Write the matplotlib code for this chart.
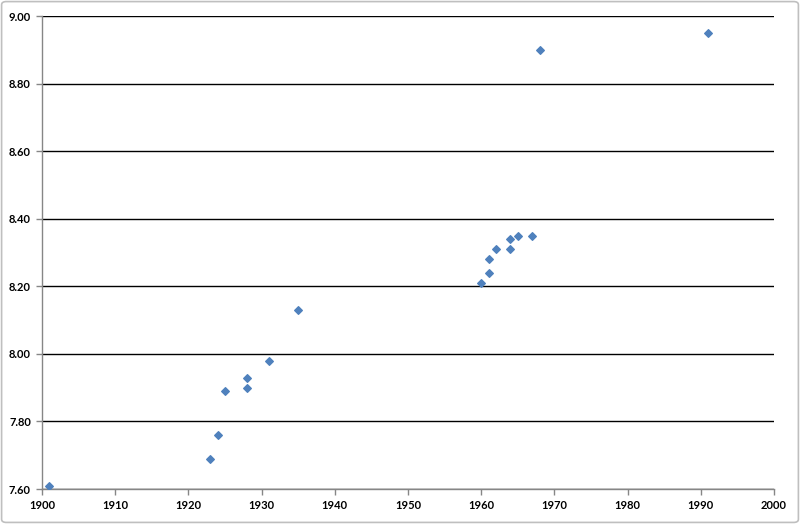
import matplotlib.pyplot as plt
from matplotlib.patches import FancyBboxPatch

years = [1901, 1923, 1924, 1925, 1928, 1928, 1931, 1935, 1960, 1961, 1961,
         1962, 1964, 1964, 1965, 1967, 1968, 1991]
values = [7.61, 7.69, 7.76, 7.89, 7.90, 7.93, 7.98, 8.13, 8.21, 8.24, 8.28,
          8.31, 8.31, 8.34, 8.35, 8.35, 8.90, 8.95]
xticks = list(range(1900, 2001, 10))
yticks = [7.60, 7.80, 8.00, 8.20, 8.40, 8.60, 8.80, 9.00]

plt.rcParams['font.family'] = ['Lato', 'DejaVu Sans']

fig = plt.figure(figsize=(8.0, 5.24), dpi=100)
ax = fig.add_axes([42 / 800, 35 / 524, 732 / 800, 473 / 524])

for y in yticks:
    ax.axhline(y, color='black', lw=1.0, zorder=1)

ax.scatter(years, values, marker='D', s=15, color='#4F81BD', edgecolors='#4F81BD', zorder=3)

ax.set_xlim(1900, 2000)
ax.set_ylim(7.60, 9.00)
ax.set_xticks(xticks)
ax.set_yticks(yticks)
ax.set_yticklabels(['%.2f' % v for v in yticks])
for s in ['top', 'right']:
    ax.spines[s].set_visible(False)
for s in ['left', 'bottom']:
    ax.spines[s].set_color('#868686')
    ax.spines[s].set_linewidth(1.0)
ax.tick_params(axis='both', direction='out', length=4, color='#868686', width=1.0,
               labelsize=8, pad=4)
for lab in ax.get_xticklabels() + ax.get_yticklabels():
    lab.set_fontweight('bold')

fig.patches.append(FancyBboxPatch((0.002, 0.003), 0.996, 0.994,
                                  boxstyle='round,pad=0,rounding_size=0.006',
                                  transform=fig.transFigure, fill=False,
                                  edgecolor='#BFBFBF', lw=1.2))

fig.savefig('out.png', dpi=100)
